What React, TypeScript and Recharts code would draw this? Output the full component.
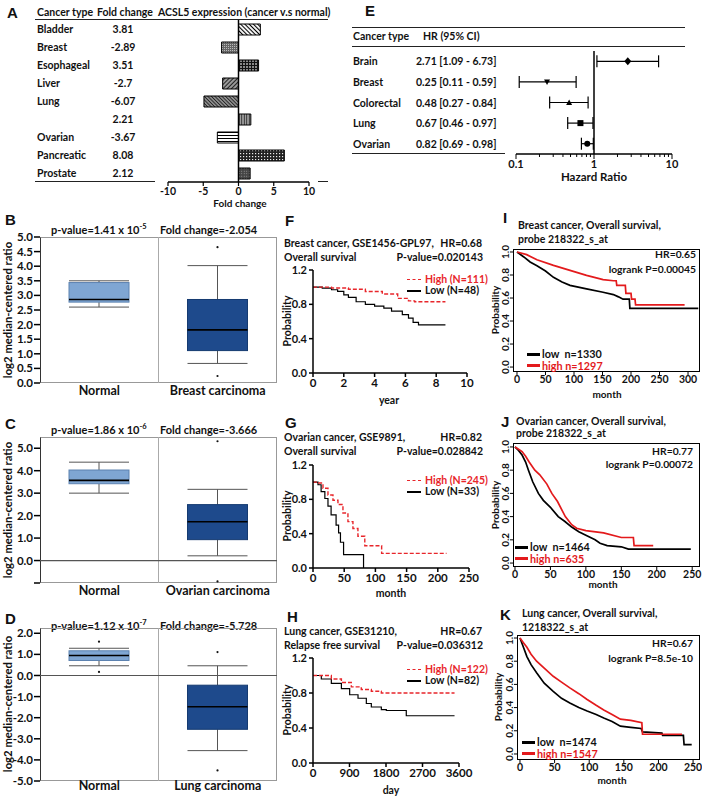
import React from 'react'
import {
  BarChart, Bar, XAxis, YAxis, Cell, ReferenceLine, ScatterChart, Scatter, ErrorBar,
  ComposedChart, LineChart, Line,
} from 'recharts'

const FONT = 'Lato, "Open Sans", Arial, sans-serif'
const HEAD = '"Liberation Sans", Arial, sans-serif'
const RED = '#e8262b'
const RRED = '#e31a1c'

// ---- panel A: fold change table + bars
const foldTypes = ['Bladder', 'Breast', 'Esophageal', 'Liver', 'Lung', '', 'Ovarian', 'Pancreatic', 'Prostate']
const foldText = ['3.81', '-2.89', '3.51', '-2.7', '-6.07', '2.21', '-3.67', '8.08', '2.12']
const foldBars = [3.1, -2.4, 2.85, -2.25, -4.9, 1.75, -3.0, 6.5, 1.65]
const foldTicks = [-10, -5, 0, 5, 10]

// ---- panel E: hazard ratios
const hrTypes = ['Brain', 'Breast', 'Colorectal', 'Lung', 'Ovarian']
const hrText = ['2.71 [1.09 - 6.73]', '0.25 [0.11 - 0.59]', '0.48 [0.27 - 0.84]', '0.67 [0.46 - 0.97]', '0.82 [0.69 - 0.98]']
const hrVal = [2.71, 0.25, 0.48, 0.67, 0.82]
const hrLo = [1.09, 0.11, 0.27, 0.46, 0.69]
const hrHi = [6.73, 0.59, 0.84, 0.97, 0.98]
const logTicks = [0.1, 0.2, 0.3, 0.4, 0.5, 0.6, 0.7, 0.8, 0.9, 1, 2, 3, 4, 5, 6, 7, 8, 9, 10]

// ---- panels B-D: box plots [min, q1, median, q3, max]
const bCats = ['Normal', 'Breast carcinoma']
const bNormal = [2.6, 2.77, 2.86, 3.44, 3.5]
const bTumor = [0.67, 1.11, 1.82, 2.86, 4.02]
const bNormalOut: number[] = []
const bTumorOut = [4.65, 0.24]
const bTicks = [0, 0.5, 1, 1.5, 2, 2.5, 3, 3.5, 4, 4.5, 5]

const cCats = ['Normal', 'Ovarian carcinoma']
const cNormal = [3.0, 3.42, 3.57, 4.03, 4.38]
const cTumor = [0.21, 0.93, 1.73, 2.49, 3.17]
const cNormalOut: number[] = []
const cTumorOut = [5.31, -0.93]
const cTicks = [-1, 0, 1, 2, 3, 4, 5]

const dCats = ['Normal', 'Lung carcinoma']
const dNormal = [0.46, 0.71, 0.95, 1.17, 1.29]
const dTumor = [-3.56, -2.55, -1.48, -0.46, 0.46]
const dNormalOut = [1.6, 0.17]
const dTumorOut = [1.11, -4.5]
const dTicks = [-5, -4, -3, -2, -1, 0, 1, 2]

// ---- panels F-H: survival (time, probability)
const fHigh = [[0, 1], [1.2, 0.99], [2.3, 0.975], [3.4, 0.95], [4.5, 0.92], [5.5, 0.87], [6.2, 0.84], [6.6, 0.83], [8.6, 0.83]]
const fLow = [[0, 1], [0.6, 0.99], [1.2, 0.97], [1.6, 0.95], [2, 0.91], [2.3, 0.88], [2.8, 0.83], [3.4, 0.8], [4, 0.78], [4.6, 0.755], [5.1, 0.72], [5.8, 0.68], [6.2, 0.64], [6.5, 0.59], [6.85, 0.56], [8.6, 0.56]]
const gHigh = [[0, 1], [8, 0.99], [16, 0.93], [24, 0.85], [32, 0.79], [40, 0.74], [48, 0.64], [56, 0.54], [64, 0.46], [72, 0.37], [83, 0.26], [110, 0.17], [214, 0.17]]
const gLow = [[0, 1], [8, 0.97], [13, 0.89], [19, 0.81], [24, 0.72], [29, 0.62], [37, 0.5], [41, 0.41], [44, 0.3], [49, 0.155], [81, 0]]
const hHigh = [[0, 1], [452, 0.96], [700, 0.92], [945, 0.87], [1190, 0.84], [1438, 0.82], [1685, 0.8], [3490, 0.8]]
const hLow = [[0, 1], [205, 0.96], [452, 0.91], [700, 0.85], [904, 0.78], [1110, 0.74], [1315, 0.68], [1438, 0.64], [1685, 0.61], [1808, 0.6], [2300, 0.54], [3490, 0.54]]

// ---- panels I-K: KM plotter curves (month, probability)
const iLow = [[0, 1], [12, 0.957], [23, 0.913], [35, 0.88], [50, 0.835], [64, 0.78], [79, 0.74], [93, 0.71], [122, 0.68], [151, 0.65], [169, 0.63], [178, 0.61], [186, 0.59], [197, 0.59], [198, 0.51], [318, 0.51]]
const iHigh = [[0, 1], [17, 0.977], [35, 0.933], [64, 0.884], [93, 0.84], [122, 0.797], [151, 0.76], [169, 0.75], [174, 0.75], [175, 0.71], [190, 0.71], [191, 0.64], [200, 0.64], [201, 0.59], [207, 0.59], [208, 0.54], [294, 0.54]]
const jLow = [[0, 1], [5, 0.97], [10, 0.93], [15, 0.87], [19, 0.8], [25, 0.7], [33, 0.6], [40, 0.54], [50, 0.48], [61, 0.4], [70, 0.36], [80, 0.31], [90, 0.27], [100, 0.24], [113, 0.2], [120, 0.17], [130, 0.15], [150, 0.14], [160, 0.12], [248, 0.12]]
const jHigh = [[0, 1], [5, 0.98], [10, 0.96], [15, 0.92], [20, 0.87], [28, 0.8], [35, 0.76], [45, 0.68], [52, 0.6], [60, 0.53], [71, 0.4], [80, 0.33], [87, 0.3], [100, 0.28], [125, 0.26], [150, 0.22], [167, 0.22], [168, 0.15], [195, 0.15]]
const kLow = [[0, 1], [5, 0.92], [10, 0.84], [16, 0.77], [24, 0.7], [35, 0.61], [48, 0.54], [60, 0.48], [72, 0.44], [85, 0.4], [97, 0.37], [110, 0.34], [121, 0.31], [133, 0.28], [145, 0.24], [160, 0.23], [175, 0.22], [177, 0.19], [205, 0.18], [206, 0.16], [236, 0.16], [237, 0.08], [248, 0.08]]
const kHigh = [[0, 1], [5, 0.96], [10, 0.92], [16, 0.86], [24, 0.8], [35, 0.74], [48, 0.67], [60, 0.62], [72, 0.57], [85, 0.52], [97, 0.47], [110, 0.42], [121, 0.38], [133, 0.34], [145, 0.3], [160, 0.29], [176, 0.27], [177, 0.17], [234, 0.17]]

const PATTERNS = ['pBladder', 'pBreast', 'pEso', 'pLiver', 'pLung', 'pVert', 'pOvary', 'pPanc', 'pProst']

const pts = (a: number[][]) => a.map(([t, p]) => ({ t, p }))

function T({ x, y, s = 10.5, c = '#111', a = 'start', rot, f = FONT, children }: any) {
  const tx = a === 'middle' ? '-50%' : a === 'end' ? '-100%' : '0'
  return (
    <div style={{
      position: 'absolute', left: x, top: y, transform: `translate(${tx},-50%)${rot ? ` rotate(${rot}deg)` : ''}`,
      fontSize: s, color: c, fontWeight: 700, whiteSpace: 'nowrap', lineHeight: 1, fontFamily: f,
    }}>{children}</div>
  )
}

function HLine({ x, y, w, c = '#222', h = 1 }: any) {
  return <div style={{ position: 'absolute', left: x, top: y, width: w, height: h, background: c }} />
}

function Stripe({ id, angle, gap, color, bg, sw = 1 }: any) {
  return (
    <pattern id={id} width={gap} height={gap} patternUnits="userSpaceOnUse" patternTransform={`rotate(${angle})`}>
      <rect width={gap} height={gap} fill={bg} />
      <line x1={gap / 2} y1={0} x2={gap / 2} y2={gap} stroke={color} strokeWidth={sw} />
    </pattern>
  )
}

function Patterns() {
  return (
    <svg width={0} height={0} style={{ position: 'absolute' }}>
      <defs>
        <Stripe id="pBladder" angle={-45} gap={3} color="#000" bg="#fff" sw={1.1} />
        <pattern id="pBreast" width={2} height={2} patternUnits="userSpaceOnUse">
          <rect width={2} height={2} fill="#666" />
          <rect width={1} height={1} fill="#bbb" />
        </pattern>
        <pattern id="pEso" width={3} height={3} patternUnits="userSpaceOnUse">
          <rect width={3} height={3} fill="#888" />
          <line x1={0} y1={0.5} x2={3} y2={0.5} stroke="#111" />
          <line x1={0.5} y1={0} x2={0.5} y2={3} stroke="#111" />
        </pattern>
        <Stripe id="pLiver" angle={45} gap={3} color="#222" bg="#999" />
        <Stripe id="pLung" angle={-45} gap={2.5} color="#222" bg="#999" />
        <Stripe id="pVert" angle={0} gap={2.5} color="#222" bg="#aaa" />
        <Stripe id="pOvary" angle={90} gap={3} color="#000" bg="#fff" />
        <pattern id="pPanc" width={3} height={3} patternUnits="userSpaceOnUse">
          <rect width={3} height={3} fill="#222" />
          <rect x={1} y={1} width={1.2} height={1.2} fill="#eee" />
        </pattern>
        <pattern id="pProst" width={2.5} height={2.5} patternUnits="userSpaceOnUse">
          <rect width={2.5} height={2.5} fill="#444" />
          <circle cx={1.2} cy={1.2} r={0.5} fill="#aaa" />
        </pattern>
      </defs>
    </svg>
  )
}

const tickFont = (s: number) => ({ fontSize: s, fontWeight: 700, fill: '#111', fontFamily: FONT })

function FoldBars() {
  const data = foldBars.map((v, i) => ({ id: String(i), v }))
  return (
    <div style={{ position: 'absolute', left: 158, top: 20 }}>
      <BarChart width={160} height={180} data={data} layout="vertical" margin={{ top: 0, right: 9, left: 10, bottom: 0 }}>
        <XAxis type="number" domain={[-10, 10]} ticks={foldTicks} interval={0} height={18} tickSize={4}
          tick={tickFont(10.5)} axisLine={{ stroke: '#000', strokeWidth: 1.5 }} tickLine={{ stroke: '#000', strokeWidth: 1.2 }} />
        <YAxis type="category" dataKey="id" hide />
        <Bar dataKey="v" barSize={11} stroke="#000" strokeWidth={1} isAnimationActive={false}>
          {data.map((d, i) => <Cell key={d.id} fill={`url(#${PATTERNS[i]})`} />)}
        </Bar>
        <ReferenceLine x={0} stroke="#000" strokeWidth={1.5} />
      </BarChart>
    </div>
  )
}

function LogTick(p: any) {
  const v = p.payload.value
  const major = v === 0.1 || v === 1 || v === 10
  return (
    <g>
      <line x1={p.x} x2={p.x} y1={p.y} y2={p.y + (major ? 5 : 3)} stroke="#000" strokeWidth={1} />
      {major && <text x={p.x} y={p.y + 14} textAnchor="middle" {...tickFont(11)}>{v}</text>}
    </g>
  )
}

function HrMark(p: any) {
  const { cx, cy, payload } = p
  const k = hrTypes.indexOf(payload.name)
  const r = 3
  if (k === 0) return <polygon points={`${cx},${cy - 4} ${cx + 3.5},${cy} ${cx},${cy + 4} ${cx - 3.5},${cy}`} fill="#000" />
  if (k === 1) return <polygon points={`${cx - r},${cy - 2.5} ${cx + r},${cy - 2.5} ${cx},${cy + 3}`} fill="#000" />
  if (k === 2) return <polygon points={`${cx - r},${cy + 2.5} ${cx + r},${cy + 2.5} ${cx},${cy - 3}`} fill="#000" />
  if (k === 3) return <rect x={cx - r} y={cy - r} width={2 * r} height={2 * r} fill="#000" />
  return <circle cx={cx} cy={cy} r={r} fill="#000" />
}

function Forest() {
  const data = hrTypes.map((name, i) => ({ name, hr: hrVal[i], err: [hrVal[i] - hrLo[i], hrHi[i] - hrVal[i]] }))
  return (
    <div style={{ position: 'absolute', left: 505, top: 45 }}>
      <ScatterChart width={177} height={139} margin={{ top: 6, right: 10, left: 11, bottom: 0 }}>
        <XAxis type="number" dataKey="hr" scale="log" domain={[0.1, 10]} allowDataOverflow ticks={logTicks} interval={0}
          tick={<LogTick />} tickLine={false} tickSize={0} tickMargin={0} height={30} axisLine={{ stroke: '#000', strokeWidth: 1.5 }} />
        <YAxis type="category" dataKey="name" hide reversed />
        <ReferenceLine x={1} stroke="#000" strokeWidth={1.5} />
        <Scatter data={data} shape={<HrMark />} isAnimationActive={false}>
          <ErrorBar dataKey="err" direction="x" width={6} stroke="#000" strokeWidth={1.2} />
        </Scatter>
      </ScatterChart>
    </div>
  )
}

function BoxShape(p: any) {
  const { x, y, width, height, payload } = p
  const [mn, q1, md, q3, mx] = payload.s
  const top = Math.min(y, y + height)
  const k = Math.abs(height) / (mx - mn)
  const py = (v: number) => top + (mx - v) * k
  const cx = x + width / 2
  const light = payload.i === 0
  const wc = '#555'
  return (
    <g>
      <line x1={cx} x2={cx} y1={py(mx)} y2={py(q3)} stroke={wc} />
      <line x1={cx} x2={cx} y1={py(q1)} y2={py(mn)} stroke={wc} />
      <line x1={x} x2={x + width} y1={py(mx)} y2={py(mx)} stroke={wc} />
      <line x1={x} x2={x + width} y1={py(mn)} y2={py(mn)} stroke={wc} />
      <rect x={x} y={py(q3)} width={width} height={py(q1) - py(q3)}
        fill={light ? '#7fa6d3' : '#1e4a8c'} stroke={light ? '#5c82b0' : '#153a70'} strokeWidth={1} />
      <line x1={x} x2={x + width} y1={py(md)} y2={py(md)} stroke="#000" strokeWidth={1.6} />
      {payload.o.map((v: number, j: number) => <circle key={j} cx={cx} cy={py(v)} r={1.1} fill="#111" />)}
    </g>
  )
}

function BoxPanel({ top, bottom, domain, ticks, fmt, cats, stats, outs, zero, lab = 3 }: any) {
  const data = cats.map((c: string, i: number) => ({ name: c, range: [stats[i][0], stats[i][4]], s: stats[i], o: outs[i], i }))
  const mt = 9
  return (
    <>
      <div style={{ position: 'absolute', left: 40, top, width: 237, height: bottom - top, border: '1px solid #999', borderLeft: '1px solid #333', boxSizing: 'border-box' }} />
      <div style={{ position: 'absolute', left: 158, top, width: 1, height: bottom - top, background: '#aaa' }} />
      <div style={{ position: 'absolute', left: 0, top: top - mt }}>
        <ComposedChart width={280} height={bottom - top + mt + 18} data={data} margin={{ top: mt, right: 3, left: 0, bottom: 0 }}>
          <XAxis dataKey="name" type="category" axisLine={false} tickLine={false} tickSize={0} height={18} tickMargin={lab}
            tick={tickFont(12.5)} interval={0} />
          <YAxis type="number" domain={domain} ticks={ticks} width={40} allowDataOverflow interval={0} tickFormatter={fmt}
            axisLine={false} tickLine={{ stroke: '#000', strokeWidth: 1.5 }} tickSize={6} tickMargin={1} tick={tickFont(11.5)} />
          {zero && <ReferenceLine y={0} stroke="#555" strokeWidth={1.2} />}
          <Bar dataKey="range" barSize={60} shape={BoxShape} isAnimationActive={false} />
        </ComposedChart>
      </div>
    </>
  )
}

function KmPrism({ plotTop, plotBottom, plotRight, xDomain, xTicks, high, low }: any) {
  const yw = 30, mt = 9, xh = 18, mr = 16
  return (
    <div style={{ position: 'absolute', left: 313 - yw, top: plotTop - mt }}>
      <LineChart width={plotRight - 313 + yw + mr} height={plotBottom - plotTop + mt + xh} margin={{ top: mt, right: mr, left: 0, bottom: 0 }}>
        <XAxis type="number" dataKey="t" domain={xDomain} ticks={xTicks} allowDataOverflow interval={0} height={xh}
          axisLine={{ stroke: '#000', strokeWidth: 1.5 }} tickLine={{ stroke: '#000', strokeWidth: 1.5 }} tickSize={4} tick={tickFont(11.5)} />
        <YAxis type="number" domain={[0, 1.2]} ticks={[0, 0.4, 0.8, 1.2]} width={yw} interval={0} tickFormatter={(v: number) => v.toFixed(1)}
          axisLine={{ stroke: '#000', strokeWidth: 1.5 }} tickLine={{ stroke: '#000', strokeWidth: 1.5 }} tickSize={4} tick={tickFont(11)} />
        <Line data={pts(low)} dataKey="p" type="stepAfter" stroke="#000" strokeWidth={1.2} dot={false} isAnimationActive={false} />
        <Line data={pts(high)} dataKey="p" type="stepAfter" stroke={RED} strokeWidth={1.4} strokeDasharray="4 2" dot={false} isAnimationActive={false} />
      </LineChart>
    </div>
  )
}

function RotTick(p: any) {
  const { x, y, payload } = p
  return (
    <text x={x} y={y} transform={`rotate(-90 ${x} ${y})`} textAnchor="middle" {...tickFont(10)}>
      {Number(payload.value).toFixed(1)}
    </text>
  )
}

function KmR({ plotLeft, plotTop, plotBottom, plotRight, xDomain, yDomain, xTicks, high, low }: any) {
  const yw = 18, mt = 8, xh = 16, mr = 2
  return (
    <>
      <div style={{ position: 'absolute', left: plotLeft, top: plotTop, width: plotRight - plotLeft, height: plotBottom - plotTop, border: '1px solid #000', boxSizing: 'border-box' }} />
      <div style={{ position: 'absolute', left: plotLeft - yw, top: plotTop - mt }}>
        <LineChart width={plotRight - plotLeft + yw + mr} height={plotBottom - plotTop + mt + xh} margin={{ top: mt, right: mr, left: 0, bottom: 0 }}>
          <XAxis type="number" dataKey="t" domain={xDomain} ticks={xTicks} allowDataOverflow interval={0} height={xh}
            axisLine={false} tickLine={{ stroke: '#000' }} tickSize={3} tickMargin={1} tick={tickFont(10.5)} />
          <YAxis type="number" domain={yDomain} ticks={[0, 0.2, 0.4, 0.6, 0.8, 1]} allowDataOverflow interval={0} width={yw}
            axisLine={false} tickLine={{ stroke: '#000' }} tickSize={3} tickMargin={1} tick={<RotTick />} />
          <Line data={pts(low)} dataKey="p" type="linear" stroke="#000" strokeWidth={1.7} dot={false} isAnimationActive={false} />
          <Line data={pts(high)} dataKey="p" type="linear" stroke={RRED} strokeWidth={1.7} dot={false} isAnimationActive={false} />
        </LineChart>
      </div>
    </>
  )
}

function PrismLegend({ y, high, low }: any) {
  return (
    <>
      <div style={{ position: 'absolute', left: 407, top: y, width: 14, borderTop: `1.5px dashed ${RED}` }} />
      <T x={425} y={y} s={10.5} c={RED}>{high}</T>
      <HLine x={407} y={y + 11} w={14} c="#000" h={1.5} />
      <T x={425} y={y + 11} s={10.5}>{low}</T>
    </>
  )
}

function RLegend({ x, y, low, high }: any) {
  return (
    <>
      <HLine x={x} y={y - 1.5} w={13} c="#000" h={3} />
      <T x={x + 15} y={y} s={10.8}>{low}</T>
      <HLine x={x} y={y + 10} w={13} c={RRED} h={3} />
      <T x={x + 15} y={y + 11.5} s={10.8} c={RRED}>{high}</T>
    </>
  )
}

export default function App() {
  const hrRows = [61, 81.75, 102.5, 123.25, 144]
  const fmt1 = (v: number) => v.toFixed(1)
  return (
    <div style={{ position: 'absolute', left: 0, top: 0, width: 702, height: 799, background: '#fff', overflow: 'hidden', fontFamily: FONT }}>
      <Patterns />

      {/* A */}
      <T x={7} y={12} s={15} f={HEAD}>A</T>
      <T x={37} y={12}>Cancer type</T>
      <T x={97} y={12}>Fold change</T>
      <T x={158} y={12}>ACSL5 expression (cancer v.s normal)</T>
      <HLine x={35} y={19} w={293} />
      {foldTypes.map((n, i) => (
        <React.Fragment key={i}>
          <T x={37} y={29.3 + i * 17.9}>{n}</T>
          <T x={123} y={29.3 + i * 17.9} a="middle">{foldText[i]}</T>
        </React.Fragment>
      ))}
      <HLine x={35} y={181} w={120} />
      <HLine x={318} y={181} w={10} />
      <FoldBars />
      <T x={240} y={203} s={10} a="middle">Fold change</T>

      {/* E */}
      <T x={365} y={10} s={15} f={HEAD}>E</T>
      <HLine x={352} y={27} w={333} />
      <T x={353} y={36}>Cancer type</T>
      <T x={423} y={36}>HR (95% CI)</T>
      <HLine x={352} y={46} w={333} />
      {hrTypes.map((n, i) => (
        <React.Fragment key={n}>
          <T x={353} y={hrRows[i]}>{n}</T>
          <T x={416} y={hrRows[i]}>{hrText[i]}</T>
        </React.Fragment>
      ))}
      <HLine x={352} y={153} w={153} />
      <Forest />
      <T x={594} y={177} s={11.5} a="middle">Hazard Ratio</T>

      {/* B */}
      <T x={5} y={219} s={15} f={HEAD}>B</T>
      <T x={51} y={229} s={11}>p-value=1.41 x 10<sup style={{ fontSize: 7.5 }}>-5</sup></T>
      <T x={160} y={229} s={11}>Fold change=-2.054</T>
      <BoxPanel top={237} bottom={383} domain={[0, 5]} ticks={bTicks} fmt={fmt1} cats={bCats}
        stats={[bNormal, bTumor]} outs={[bNormalOut, bTumorOut]} />
      <T x={8} y={310} s={11.3} a="middle" rot={-90}>log2 median-centered ratio</T>

      {/* C */}
      <T x={5} y={423} s={15} f={HEAD}>C</T>
      <T x={51} y={429} s={11}>p-value=1.86 x 10<sup style={{ fontSize: 7.5 }}>-6</sup></T>
      <T x={160} y={429} s={11}>Fold change=-3.666</T>
      <BoxPanel top={437} bottom={583} domain={[-1, 5.5]} ticks={cTicks} fmt={(v: number) => (v < 0 ? '' : v.toFixed(1))} cats={cCats}
        stats={[cNormal, cTumor]} outs={[cNormalOut, cTumorOut]} zero />
      <T x={8} y={510} s={11.3} a="middle" rot={-90}>log2 median-centered ratio</T>

      {/* D */}
      <T x={5} y={618} s={15} f={HEAD}>D</T>
      <T x={51} y={625} s={11}>p-value=1.12 x 10<sup style={{ fontSize: 7.5 }}>-7</sup></T>
      <T x={160} y={625} s={11}>Fold change=-5.728</T>
      <BoxPanel top={628} bottom={781} domain={[-5, 2.25]} ticks={dTicks} fmt={fmt1} cats={dCats}
        stats={[dNormal, dTumor]} outs={[dNormalOut, dTumorOut]} zero lab={0} />
      <T x={8} y={704} s={11.3} a="middle" rot={-90}>log2 median-centered ratio</T>

      {/* F */}
      <T x={285} y={220} s={15} f={HEAD}>F</T>
      <T x={284} y={243} s={10.5}>Breast cancer, GSE1456-GPL97,</T>
      <T x={482} y={243} s={10.5} a="end">HR=0.68</T>
      <T x={284} y={257} s={10.5}>Overall survival</T>
      <T x={483} y={257} s={10.5} a="end">P-value=0.020143</T>
      <KmPrism plotTop={270} plotBottom={373} plotRight={467} xDomain={[0, 10]} xTicks={[0, 2, 4, 6, 8, 10]} high={fHigh} low={fLow} />
      <PrismLegend y={279} high="High (N=111)" low="Low (N=48)" />
      <T x={287} y={321} s={10.5} a="middle" rot={-90}>Probability</T>
      <T x={389} y={400} s={10.5} a="middle">year</T>

      {/* G */}
      <T x={285} y={422} s={15} f={HEAD}>G</T>
      <T x={284} y={437} s={10.5}>Ovarian cancer, GSE9891,</T>
      <T x={482} y={437} s={10.5} a="end">HR=0.82</T>
      <T x={284} y={451} s={10.5}>Overall survival</T>
      <T x={483} y={451} s={10.5} a="end">P-value=0.028842</T>
      <KmPrism plotTop={465} plotBottom={568} plotRight={469} xDomain={[0, 250]} xTicks={[0, 50, 100, 150, 200, 250]} high={gHigh} low={gLow} />
      <PrismLegend y={480} high="High (N=245)" low="Low (N=33)" />
      <T x={287} y={516} s={10.5} a="middle" rot={-90}>Probability</T>
      <T x={391} y={593} s={10.5} a="middle">month</T>

      {/* H */}
      <T x={287} y={616} s={15} f={HEAD}>H</T>
      <T x={284} y={631} s={10.5}>Lung cancer, GSE31210,</T>
      <T x={482} y={631} s={10.5} a="end">HR=0.67</T>
      <T x={284} y={645} s={10.5}>Relapse free survival</T>
      <T x={483} y={645} s={10.5} a="end">P-value=0.036312</T>
      <KmPrism plotTop={658} plotBottom={763} plotRight={459} xDomain={[0, 3600]} xTicks={[0, 900, 1800, 2700, 3600]} high={hHigh} low={hLow} />
      <PrismLegend y={669} high="High (N=122)" low="Low (N=82)" />
      <T x={287} y={710} s={10.5} a="middle" rot={-90}>Probability</T>
      <T x={391} y={790} s={10.5} a="middle">day</T>

      {/* I */}
      <T x={503} y={217} s={15} f={HEAD}>I</T>
      <T x={518} y={225} s={10.5}>Breast cancer, Overall survival,</T>
      <T x={518} y={239} s={10.5}>probe 218322_s_at</T>
      <KmR plotLeft={513} plotTop={249} plotBottom={372} plotRight={700} xDomain={[-7, 321]} yDomain={[-0.043, 1.026]}
        xTicks={[0, 50, 100, 150, 200, 250, 300]} high={iHigh} low={iLow} />
      <T x={696} y={254} s={10.3} a="end">HR=0.65</T>
      <T x={696} y={269} s={10.3} a="end">logrank P=0.00045</T>
      <RLegend x={527} y={354} low={'low\u00a0\u00a0n=1330'} high="high n=1297" />
      <T x={495} y={310} s={10} a="middle" rot={-90}>Probability</T>
      <T x={607} y={394} s={10} a="middle">month</T>

      {/* J */}
      <T x={501} y={421} s={15} f={HEAD}>J</T>
      <T x={516} y={421} s={10.5}>Ovarian cancer, Overall survival,</T>
      <T x={516} y={433} s={10.5}>probe 218322_s_at</T>
      <KmR plotLeft={513} plotTop={443} plotBottom={567} plotRight={700} xDomain={[-2.8, 261]} yDomain={[-0.034, 1.034]}
        xTicks={[0, 50, 100, 150, 200, 250]} high={jHigh} low={jLow} />
      <T x={693} y={451} s={10.3} a="end">HR=0.77</T>
      <T x={693} y={464} s={10.3} a="end">logrank P=0.00072</T>
      <RLegend x={515} y={547} low={'low\u00a0\u00a0n=1464'} high="high n=635" />
      <T x={495} y={505} s={10} a="middle" rot={-90}>Probability</T>
      <T x={603} y={584} s={10} a="middle">month</T>

      {/* K */}
      <T x={500} y={614} s={15} f={HEAD}>K</T>
      <T x={522} y={613} s={10.5}>Lung cancer, Overall survival,</T>
      <T x={522} y={627} s={10.5}>1218322_s_at</T>
      <KmR plotLeft={517} plotTop={635} plotBottom={760} plotRight={700} xDomain={[-4.3, 260]} yDomain={[-0.052, 1.026]}
        xTicks={[0, 50, 100, 150, 200, 250]} high={kHigh} low={kLow} />
      <T x={693} y={643} s={10.3} a="end">HR=0.67</T>
      <T x={693} y={658} s={10.3} a="end">logrank P=8.5e-10</T>
      <RLegend x={522} y={742} low={'low\u00a0\u00a0n=1474'} high="high n=1547" />
      <T x={498} y={697} s={10} a="middle" rot={-90}>Probability</T>
      <T x={612} y={780} s={10} a="middle">month</T>
    </div>
  )
}
